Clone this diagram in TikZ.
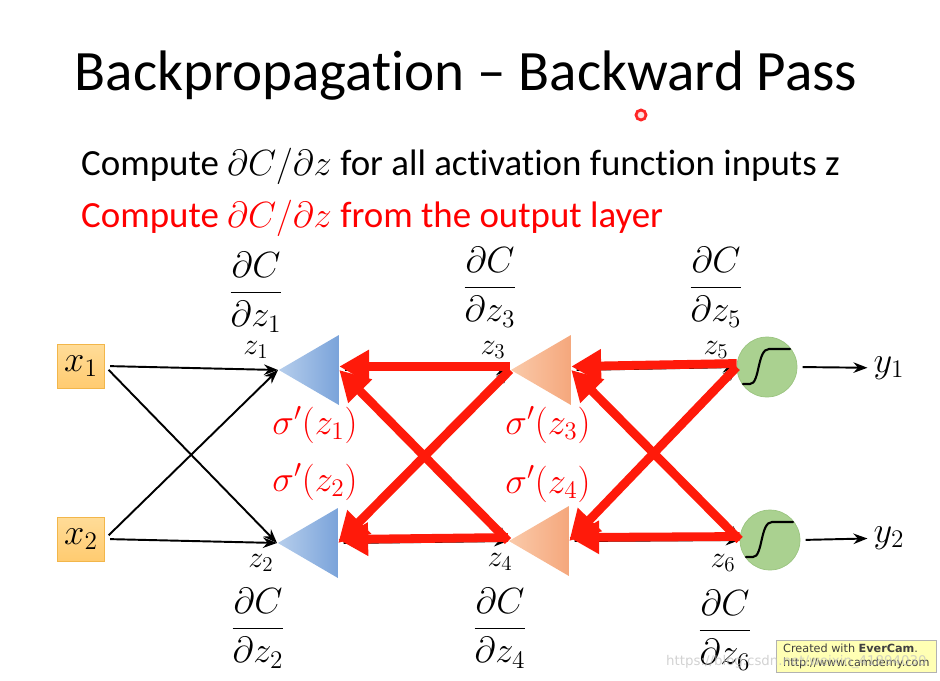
\documentclass[tikz,border=0pt]{standalone}
\usepackage{amsmath}
\usepackage{fontspec}
\setmainfont{Carlito}[RawFeature={-liga;-clig;-dlig;-calt}]
\newfontfamily\camfont{DejaVu Sans}
\usepackage{xcolor}
\usetikzlibrary{arrows.meta}
\usetikzlibrary{shapes.geometric}
\usetikzlibrary{positioning}

\definecolor{xtop}{HTML}{FFDC98}
\definecolor{xbot}{HTML}{FFCB70}
\definecolor{xedge}{HTML}{F2B64A}
\definecolor{blueL}{HTML}{B6CEEC}
\definecolor{blueR}{HTML}{7AA3DA}
\definecolor{orngL}{HTML}{FACAAA}
\definecolor{orngR}{HTML}{F5A77C}
\definecolor{grnfill}{HTML}{AAD190}
\definecolor{grnedge}{HTML}{9AC47F}
\definecolor{evyellow}{HTML}{FFFFB4}
\definecolor{bwdred}{HTML}{FF1A0A}

\begin{document}
\begin{tikzpicture}[x=0.02cm, y=-0.02cm, font=\fontsize{21}{25}\selectfont,
      inbox/.style={draw=xedge, top color=xtop, bottom color=xbot, inner sep=0pt,
        minimum width=0.94cm, minimum height=0.88cm},
      tri/.style={isosceles triangle, isosceles triangle stretches, shape border rotate=180,
        inner sep=0pt, minimum width=1.4cm, minimum height=1.2cm},
      neuron/.style={circle, draw=grnedge, fill=grnfill, minimum size=1.2cm, inner sep=0pt},
      zlab/.style={font=\fontsize{18}{22}\selectfont, inner sep=0pt},
      grad/.style={inner sep=0pt},
      sig/.style={text=red, inner sep=0pt},
      fwd/.style={line width=1.1pt, shorten <=3pt, -{Stealth[length=8pt,width=6pt]}},
      bwd/.style={bwdred, line width=5pt, -{Triangle[length=17pt,width=18pt]}}]

      \useasboundingbox (0,0) rectangle (940,680);

      % header
      \node[font=\fontsize{32.5}{38}\selectfont, anchor=base] (title) at (466,90) {Backpropagation -- Backward Pass};
      \node[anchor=base west] (line1) at (75,175) {Compute $\partial C/\partial z$ for all activation function inputs z};
      \node[anchor=base west, text=red] (line2) at (75,227) {Compute $\partial C/\partial z$ from the output layer};
      \node[circle, draw=red!85, fill=red!12, line width=1.6pt, minimum size=0.2cm, inner sep=0pt] (cursor) at (641,115) {};

      % layers
      \node[inbox] (x1) at (81,366) {$x_1$};
      \node[inbox] (x2) at (81,539) {$x_2$};

      \node[tri, left color=blueL, right color=blueR, anchor=apex] (t1) at (278,370) {};
      \node[tri, left color=blueL, right color=blueR, anchor=apex] (t2) at (277,543) {};
      \node[tri, left color=orngL, right color=orngR, anchor=apex] (t3) at (510,370) {};
      \node[tri, left color=orngL, right color=orngR, anchor=apex] (t4) at (508,541) {};

      \node[neuron] (o1) at (767,367) {};
      \node[neuron] (o2) at (770,540) {};
      \foreach \o in {o1,o2}
        \draw[line width=1.2pt, line cap=round, shift={(\o.center)}]
          (-24,17) -- (-17,17) .. controls (-7,17) and (-10,-18) .. (2,-18) -- (23,-18);

      \node[] (y1) at (889,368) {$y_1$};
      \node[] (y2) at (889,538) {$y_2$};

      % z labels
      \node[zlab] (lz1) at (256,350) {$z_1$};
      \node[zlab] (lz2) at (261,563) {$z_2$};
      \node[zlab] (lz3) at (493,350) {$z_3$};
      \node[zlab] (lz4) at (500,562) {$z_4$};
      \node[zlab] (lz5) at (716,350) {$z_5$};
      \node[zlab] (lz6) at (723,563) {$z_6$};

      % gradients
      \node[grad] (g1) at (256,292) {$\dfrac{\partial C}{\partial z_1}$};
      \node[grad] (g2) at (258,628) {$\dfrac{\partial C}{\partial z_2}$};
      \node[grad] (g3) at (490,287) {$\dfrac{\partial C}{\partial z_3}$};
      \node[grad] (g4) at (500,628) {$\dfrac{\partial C}{\partial z_4}$};
      \node[grad] (g5) at (716,287) {$\dfrac{\partial C}{\partial z_5}$};
      \node[grad] (g6) at (725,630) {$\dfrac{\partial C}{\partial z_6}$};

      \node[sig] (s1) at (315,425) {$\sigma'(z_1)$};
      \node[sig] (s2) at (315,482) {$\sigma'(z_2)$};
      \node[sig] (s3) at (548,425) {$\sigma'(z_3)$};
      \node[sig] (s4) at (548,484) {$\sigma'(z_4)$};

      % forward pass
      \path[fwd]
        (x1.east) edge (t1.apex)
        (x1.east) edge (t2.apex)
        (x2.east) edge (t1.apex)
        (x2.east) edge (t2.apex)

        (t1.lower side) edge (t3.apex)
        (t1.lower side) edge (t4.apex)
        (t2.lower side) edge (t3.apex)
        (t2.lower side) edge (t4.apex)

        (t3.lower side) edge (o1.west)
        (t3.lower side) edge (o2.west)
        (t4.lower side) edge (o1.west)
        (t4.lower side) edge (o2.west)

        (o1.east) edge (y1)
        (o2.east) edge (y2);

      % backward pass
      \path[bwd]
        ([yshift=2pt]t3.apex) edge ([yshift=2pt]t1.lower side)
        (t3.apex) edge (t2.lower side)
        (t4.apex) edge (t1.lower side)
        ([yshift=2pt]t4.apex) edge ([yshift=2pt]t2.lower side)

        ([yshift=2pt]o1.west) edge ([yshift=2pt]t3.lower side)
        (o1.west) edge (t4.lower side)
        (o2.west) edge (t3.lower side)
        ([yshift=2pt]o2.west) edge ([yshift=2pt]t4.lower side);

      % recorder stamp
      \node[draw=black!30, fill=evyellow, anchor=north west, align=left, inner sep=2pt,
        font=\camfont\fontsize{6.4}{8}\selectfont, text=black!75, minimum width=3.2cm] (stamp) at (776,640)
        {Created with \textbf{EverCam}.\\http://www.camdemy.com};
      \node[anchor=base west, font=\camfont\fontsize{7.6}{9}\selectfont, text=black!25, opacity=0.7] (wmark) at (660,665)
        {https://blog.csdn.net/weixin\_41894030};

\end{tikzpicture}
\end{document}
